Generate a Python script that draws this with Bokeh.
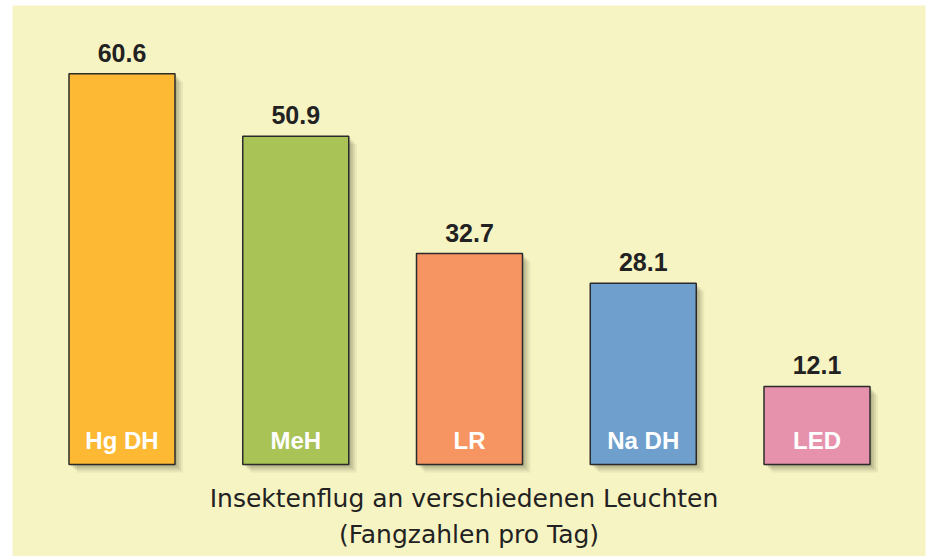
from bokeh.plotting import figure
from bokeh.models import Range1d, ColumnDataSource, Label
from bokeh.core.properties import value
from bokeh.embed import file_html
from bokeh.resources import INLINE

# data
categories = ["Hg DH", "MeH", "LR", "Na DH", "LED"]
values = [60.6, 50.9, 32.7, 28.1, 12.1]
colors = ["#FDB934", "#A9C356", "#F79562", "#6E9FCD", "#E692AD"]
title_line1 = "Insektenflug an verschiedenen Leuchten"
title_line2 = "(Fangzahlen pro Tag)"

BG = "#F7F4C3"
W, H = 930, 556
ML, MT, MR = 12, 5, 5
FW, FH = W - ML - MR, H - MT
px_x = 173.75          # px per category
px_y = 6.45            # px per unit
x0 = -(121.5 - ML) / px_x
y0 = -(FH - (464 - MT)) / px_y

p = figure(width=W, height=H, output_backend="svg", toolbar_location=None,
           x_range=Range1d(x0, x0 + FW / px_x), y_range=Range1d(y0, y0 + FH / px_y),
           min_border=0, min_border_left=ML, min_border_top=MT, min_border_right=MR,
           min_border_bottom=0,
           background_fill_color=BG, border_fill_color="#FFFFFF",
           outline_line_color=None)
p.axis.visible = False
p.grid.visible = False

xs = list(range(len(categories)))
src = ColumnDataSource(dict(x=xs, top=values, color=colors, cat=categories,
                            lab=["%.1f" % v for v in values]))

# soft shadows
bw = 106 / px_x
for k, a in [(8, 0.07), (6, 0.09), (4, 0.12), (2, 0.12)]:
    sx = [x + k / px_x for x in xs]
    p.vbar(x=sx, top=[v - k / px_y for v in values], bottom=-k / px_y, width=bw,
           fill_color="#3a3a20", fill_alpha=a, line_color=None)

p.vbar(x="x", top="top", bottom=0, width=bw, fill_color="color",
       line_color="#2b2b2b", line_width=1.5, source=src)

p.text(x="x", y="top", text="lab", source=src, y_offset=-12,
       text_align="center", text_baseline="bottom",
       text_font=value("Liberation Sans"), text_font_style="bold",
       text_font_size="25px", text_color="#222222")

p.text(x="x", y=0, text="cat", source=src, y_offset=-11,
       text_align="center", text_baseline="bottom",
       text_font=value("Liberation Sans"), text_font_style="bold",
       text_font_size="24px", text_color="#FFFFFF")

p.add_layout(Label(x=(463.5 - 121.5) / px_x, y=-(512 - 464) / px_y, text=title_line1,
                   text_align="center", text_baseline="bottom",
                   text_font="DejaVu Sans", text_font_size="25px", text_color="#222222"))
p.add_layout(Label(x=(468.5 - 121.5) / px_x, y=-(548 - 464) / px_y, text=title_line2,
                   text_align="center", text_baseline="bottom",
                   text_font="DejaVu Sans", text_font_size="25px", text_color="#222222"))

open("out.html", "w").write(file_html(p, INLINE))
